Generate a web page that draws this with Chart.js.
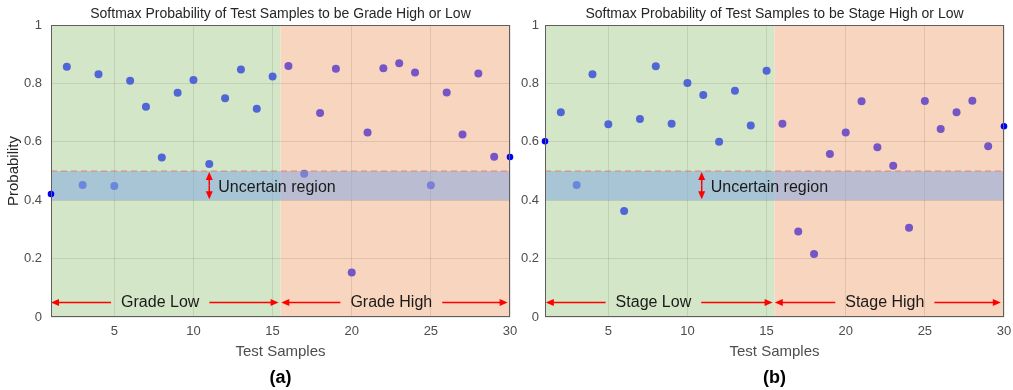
<!DOCTYPE html>
<html>
<head>
<meta charset="utf-8">
<script src="https://cdn.jsdelivr.net/npm/chart.js@4.4.0/dist/chart.umd.min.js"></script>
<style>
  body { margin: 0; background: #fff; }
  #wrap { position: relative; width: 1013px; height: 390px; }
  .panel { position: absolute; top: 0; height: 390px; }
</style>
</head>
<body>
<div id="wrap">
  <div class="panel" style="left:0;width:527px"><canvas id="gradeChart" width="527" height="390"></canvas></div>
  <div class="panel" style="left:513px;width:500px"><canvas id="stageChart" width="500" height="390"></canvas></div>
</div>
<script>
// test sample index and softmax probability
const samples = [1, 2, 3, 4, 5, 6, 7, 8, 9, 10, 11, 12, 13, 14, 15,
                 16, 17, 18, 19, 20, 21, 22, 23, 24, 25, 26, 27, 28, 29, 30];
const gradeProb = [0.421, 0.857, 0.452, 0.831, 0.449, 0.809, 0.720, 0.546, 0.768, 0.812,
                   0.524, 0.749, 0.848, 0.713, 0.824, 0.860, 0.491, 0.699, 0.850, 0.152,
                   0.632, 0.852, 0.869, 0.837, 0.451, 0.769, 0.625, 0.834, 0.549, 0.548];
const stageProb = [0.602, 0.701, 0.452, 0.831, 0.660, 0.363, 0.678, 0.859, 0.662, 0.801,
                   0.760, 0.600, 0.775, 0.656, 0.843, 0.662, 0.293, 0.216, 0.558, 0.632,
                   0.739, 0.581, 0.518, 0.306, 0.740, 0.644, 0.701, 0.741, 0.585, 0.653];
const xTickValues = [5, 10, 15, 20, 25, 30];
const yTickLabels = ['0', '0.2', '0.4', '0.6', '0.8', '1'];
const edgeSamples = [1, 30];
const classSplit = 15.5;
const uncertainBand = [0.4, 0.5];

const FONT = '"Liberation Sans", Arial, sans-serif';

const gradePanel = {
  title: 'Softmax Probability of Test Samples to be Grade High or Low',
  tag: '(a)',
  classNames: ['Grade Low', 'Grade High'],
  nameAt: [7.9, 22.5],
  spans: [[1, 15.38], [15.55, 29.85]],
  bandArrowX: 11,
  yTitle: 'Probability',
  axisWidth: 51, tickPad: 9, rightPad: 17
};
const stagePanel = {
  title: 'Softmax Probability of Test Samples to be Stage High or Low',
  tag: '(b)',
  classNames: ['Stage Low', 'Stage High'],
  nameAt: [7.85, 22.47],
  spans: [[1.05, 15.38], [15.52, 29.8]],
  bandArrowX: 10.9,
  yTitle: '',
  axisWidth: 32, tickPad: 6, rightPad: 9
};

function pointsFor(values, keep) {
  return samples.map((s, i) => ({x: s, y: values[i]})).filter(p => keep(p.x));
}

function arrowTo(ctx, x1, y1, x2, y2) {
  const d = Math.hypot(x2 - x1, y2 - y1), dx = (x2 - x1) / d, dy = (y2 - y1) / d;
  const len = 8, half = 3.5;
  ctx.beginPath();
  ctx.moveTo(x1, y1);
  ctx.lineTo(x2 - dx * 5, y2 - dy * 5);
  ctx.stroke();
  ctx.beginPath();
  ctx.moveTo(x2, y2);
  ctx.lineTo(x2 - dx * len - dy * half, y2 - dy * len + dx * half);
  ctx.lineTo(x2 - dx * len + dy * half, y2 - dy * len - dx * half);
  ctx.closePath();
  ctx.fill();
}

const panelDecor = {
  id: 'panelDecor',
  beforeDraw(chart) {
    const {ctx, chartArea: a, scales: {x}} = chart;
    const split = x.getPixelForValue(classSplit);
    ctx.save();
    ctx.fillStyle = '#d3e6c7';
    ctx.fillRect(a.left, a.top, split - a.left, a.height);
    ctx.fillStyle = '#f8d5be';
    ctx.fillRect(split, a.top, a.right - split, a.height);
    ctx.restore();
  },
  afterDatasetDraw(chart, args) {
    if (chart.data.datasets[args.index].label !== 'high') return;
    const {ctx, chartArea: a, scales: {y}} = chart;
    const top = y.getPixelForValue(uncertainBand[1]);
    const bottom = y.getPixelForValue(uncertainBand[0]);
    ctx.save();
    ctx.fillStyle = 'rgba(129,167,227,0.52)';
    ctx.fillRect(a.left, top, a.width, bottom - top);
    ctx.strokeStyle = 'rgba(232,112,84,0.8)';
    ctx.lineWidth = 1.2;
    ctx.setLineDash([6, 4]);
    ctx.beginPath();
    ctx.moveTo(a.left, top);
    ctx.lineTo(a.right, top);
    ctx.stroke();
    ctx.restore();
  },
  afterDatasetsDraw(chart, args, opts) {
    const p = opts.panel;
    const {ctx, chartArea: a, scales: {x, y}} = chart;
    ctx.save();
    ctx.strokeStyle = '#ff0000';
    ctx.fillStyle = '#ff0000';
    ctx.lineWidth = 1.5;

    // class arrows with names
    const ay = y.getPixelForValue(0.05);
    ctx.font = '16px ' + FONT;
    ctx.textBaseline = 'middle';
    ctx.textAlign = 'center';
    p.classNames.forEach((name, i) => {
      const tx = x.getPixelForValue(p.nameAt[i]);
      const w = ctx.measureText(name).width;
      const gap = 10;
      ctx.fillStyle = '#ff0000';
      arrowTo(ctx, tx - w / 2 - gap, ay, x.getPixelForValue(p.spans[i][0]), ay);
      arrowTo(ctx, tx + w / 2 + gap, ay, x.getPixelForValue(p.spans[i][1]), ay);
      ctx.fillStyle = '#1a1a1a';
      ctx.fillText(name, tx, ay);
    });

    // uncertain region arrow
    const bx = x.getPixelForValue(p.bandArrowX);
    const top = y.getPixelForValue(uncertainBand[1]);
    const bottom = y.getPixelForValue(uncertainBand[0]);
    const mid = (top + bottom) / 2;
    ctx.fillStyle = '#ff0000';
    arrowTo(ctx, bx, mid, bx, top + 1);
    arrowTo(ctx, bx, mid, bx, bottom - 1);
    ctx.fillStyle = '#1a1a1a';
    ctx.textAlign = 'left';
    ctx.fillText('Uncertain region', bx + 9, y.getPixelForValue(0.443));

    // axes box
    ctx.strokeStyle = '#5e5e5e';
    ctx.lineWidth = 1;
    ctx.strokeRect(Math.round(a.left) + 0.5, Math.round(a.top) + 0.5,
                   Math.round(a.width) - 1, Math.round(a.height) - 1);

    // title and panel tag
    const cx = (a.left + a.right) / 2;
    ctx.textAlign = 'center';
    ctx.fillStyle = '#262626';
    ctx.font = '14px ' + FONT;
    ctx.fillText(p.title, cx, 14);
    ctx.fillStyle = '#000';
    ctx.font = 'bold 18px ' + FONT;
    ctx.fillText(p.tag, cx, 378);
    ctx.restore();
  }
};

function makeChart(canvasId, values, p) {
  return new Chart(document.getElementById(canvasId), {
    type: 'scatter',
    data: {
      datasets: [
        {
          label: 'low',
          data: pointsFor(values, s => !edgeSamples.includes(s) && s < classSplit),
          backgroundColor: '#5166d6',
          pointRadius: 4, pointBorderWidth: 0, order: 3, clip: false
        },
        {
          label: 'high',
          data: pointsFor(values, s => !edgeSamples.includes(s) && s > classSplit),
          backgroundColor: '#7656c6',
          pointRadius: 4, pointBorderWidth: 0, order: 2, clip: false
        },
        {
          label: 'edge',
          data: pointsFor(values, s => edgeSamples.includes(s)),
          backgroundColor: '#0000ff',
          pointRadius: 3.3, pointBorderWidth: 0, order: 1, clip: false
        }
      ]
    },
    options: {
      responsive: false,
      animation: false,
      devicePixelRatio: 1,
      layout: { padding: { top: 25, bottom: 29, left: 0, right: p.rightPad } },
      plugins: {
        legend: { display: false },
        tooltip: { enabled: false },
        panelDecor: { panel: p }
      },
      scales: {
        x: {
          type: 'linear', min: 1, max: 30,
          afterBuildTicks: s => { s.ticks = xTickValues.map(v => ({value: v})); },
          afterFit: s => { s.height = 44; s.paddingLeft = 0; s.paddingRight = 0; },
          grid: { color: 'rgba(0,0,0,0.09)', drawTicks: false },
          border: { display: false },
          ticks: { color: '#4d4d4d', font: { size: 13, family: FONT }, padding: 7, maxRotation: 0 },
          title: { display: true, text: 'Test Samples', color: '#4d4d4d',
                   font: { size: 15, family: FONT }, padding: { top: 0, bottom: 0 } }
        },
        y: {
          min: 0, max: 1,
          afterFit: s => { s.width = p.axisWidth; s.paddingTop = 0; s.paddingBottom = 0; },
          grid: { color: 'rgba(0,0,0,0.09)', drawTicks: false },
          border: { display: false },
          ticks: { stepSize: 0.2, color: '#4d4d4d', font: { size: 13, family: FONT }, padding: p.tickPad,
                   callback: (v, i) => yTickLabels[i] },
          title: { display: p.yTitle !== '', text: p.yTitle, color: '#262626',
                   font: { size: 15, family: FONT }, padding: { top: 5, bottom: 0 } }
        }
      }
    },
    plugins: [panelDecor]
  });
}

makeChart('gradeChart', gradeProb, gradePanel);
makeChart('stageChart', stageProb, stagePanel);
</script>
</body>
</html>
